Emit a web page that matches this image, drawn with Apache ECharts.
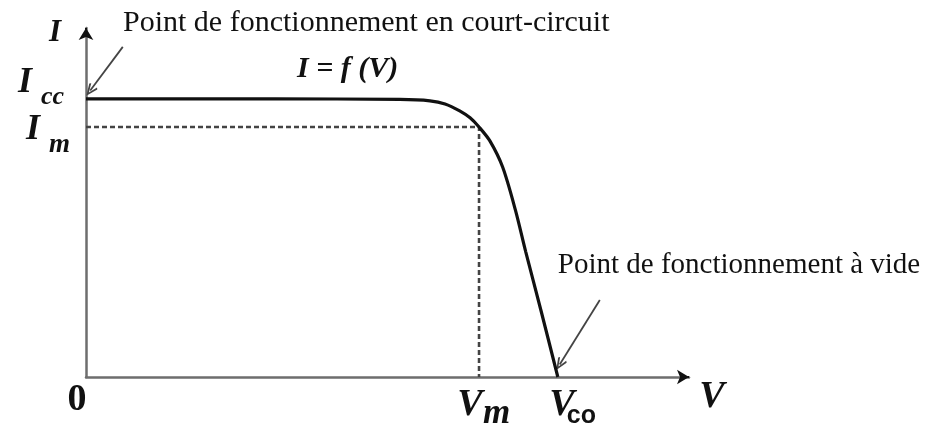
<!DOCTYPE html>
<html>
<head>
<meta charset="utf-8">
<script src="https://cdn.jsdelivr.net/npm/echarts@6/dist/echarts.min.js"></script>
<style>
  html, body { margin: 0; padding: 0; background: #fff; }
  #chart { width: 925px; height: 432px; }
</style>
</head>
<body>
<div id="chart"></div>
<script>
// I = f(V) characteristic of a photovoltaic cell, normalised units (Icc = 100, Vco = 100)
const curveV = [0, 40, 66.5, 72.9, 76.1, 79.2, 81.4, 83.3, 85.6, 88.3, 91.0, 93.2, 96.4, 100];
const curveI = [100, 100, 99.8, 99.3, 98.2, 95.7, 93.2, 89.9, 84.9, 75.5, 60.1, 45.0, 24.1, 0];

// Characteristic points
const Icc = 100;
const Im = 89.9;
const Vm = 83.3;
const Vco = 100;

// Axis extents
const vMax = 127.8;
const iMax = 125.5;

// Annotation arrows: [tail, head] in (V, I)
const shortCircuitArrow = [[7.8, 118.7], [0.9, 103.0]];
const openCircuitArrow = [[108.9, 27.7], [100.4, 4.5]];

// Texts
const titleShort = 'Point de fonctionnement en court-circuit';
const titleOpen = 'Point de fonctionnement à vide';
const curveName = 'I = f (V)';

const chart = echarts.init(document.getElementById('chart'), null, { renderer: 'canvas' });

const serifBI = '"Liberation Serif", "Times New Roman", serif';
const ink = '#111';
const openHead = 'path://M5,0 L10,10 L8.6,11.2 L5,3.6 L1.4,11.2 L0,10 Z';

chart.setOption({
  animation: false,
  backgroundColor: '#ffffff',
  grid: { left: 86, right: 236, top: 28, bottom: 55 },
  xAxis: {
    type: 'value', min: 0, max: vMax,
    axisLine: { show: true, symbol: 'none', lineStyle: { color: '#6e6e6e', width: 2.5 } },
    axisTick: { show: false }, axisLabel: { show: false }, splitLine: { show: false }
  },
  yAxis: {
    type: 'value', min: 0, max: iMax,
    axisLine: { show: true, symbol: 'none', lineStyle: { color: '#6e6e6e', width: 2.5 } },
    axisTick: { show: false }, axisLabel: { show: false }, splitLine: { show: false }
  },
  series: [{
    // maximum power point guides
    type: 'line',
    data: [[0, Im], [Vm, Im], [Vm, 0]],
    showSymbol: false,
    silent: true,
    lineStyle: { color: '#444', width: 2.6, type: [5, 3] },
    z: 3
  }, {
    type: 'line',
    data: curveV.map((v, k) => [v, curveI[k]]),
    smooth: 0.3,
    showSymbol: false,
    lineStyle: { color: ink, width: 3.2 },
    z: 5
  }, {
    // annotation pointers
    type: 'line',
    data: [],
    markLine: {
      silent: true,
      animation: false,
      symbol: ['none', openHead],
      symbolSize: [10, 13],
      label: { show: false },
      lineStyle: { color: '#444', width: 1.8, type: 'solid', opacity: 1 },
      data: [
        [{ coord: shortCircuitArrow[0] }, { coord: shortCircuitArrow[1] }],
        [{ coord: openCircuitArrow[0] }, { coord: openCircuitArrow[1] }]
      ]
    }
  }, {
    // axis arrowheads
    type: 'line',
    data: [],
    markLine: {
      silent: true,
      animation: false,
      symbol: ['none', 'arrow'],
      symbolSize: [11, 12],
      label: { show: false },
      lineStyle: { color: '#111', width: 2, type: 'solid', opacity: 1 },
      data: [
        [{ coord: [vMax - 0.3, 0] }, { coord: [vMax, 0] }],
        [{ coord: [0, iMax - 0.5] }, { coord: [0, iMax] }]
      ]
    }
  }]
});

// Labels placed relative to the characteristic points
const px = (v, i) => chart.convertToPixel({ gridIndex: 0 }, [v, i]);
const o = px(0, 0);
const pIcc = px(0, Icc);
const pIm = px(0, Im);
const pVm = px(Vm, 0);
const pVco = px(Vco, 0);
const pVend = px(vMax, 0);
const pIend = px(0, iMax);

function txt(text, x, y, font, align) {
  return {
    type: 'text', x: x, y: y, z: 10,
    style: { text: text, font: font, fill: ink, align: align || 'center', verticalAlign: 'middle' }
  };
}

chart.setOption({
  graphic: [
    txt('I', pIend[0] - 31, pIend[1] + 5, 'italic bold 31px ' + serifBI),
    txt('I', pIcc[0] - 61, pIcc[1] - 16, 'italic bold 36px ' + serifBI),
    txt('cc', pIcc[0] - 45, pIcc[1] - 2, 'italic bold 26px ' + serifBI, 'left'),
    txt('I', pIm[0] - 53, pIm[1] + 3, 'italic bold 36px ' + serifBI),
    txt('m', pIm[0] - 37, pIm[1] + 18, 'italic bold 27px ' + serifBI, 'left'),
    txt('0', o[0] - 9, o[1] + 23, 'bold 38px ' + serifBI),
    txt('V', pVm[0] - 9, pVm[1] + 28, 'italic bold 38px ' + serifBI),
    txt('m', pVm[0] + 4, pVm[1] + 37, 'italic bold 35px ' + serifBI, 'left'),
    txt('V', pVco[0] + 4, pVco[1] + 28, 'italic bold 38px ' + serifBI),
    txt('co', pVco[0] + 9, pVco[1] + 39, 'bold 25px "Liberation Sans", Arial, sans-serif', 'left'),
    txt('V', pVend[0] + 23, pVend[1] + 20, 'italic bold 38px ' + serifBI),
    txt(curveName, pIcc[0] + 211, pIcc[1] - 30, 'italic bold 30px ' + serifBI, 'left'),
    txt(titleShort, pIcc[0] + 37, pIend[1] - 5, '30px ' + serifBI, 'left'),
    txt(titleOpen, pVco[0], pVco[1] - 112, '29px ' + serifBI, 'left')
  ]
});
</script>
</body>
</html>
